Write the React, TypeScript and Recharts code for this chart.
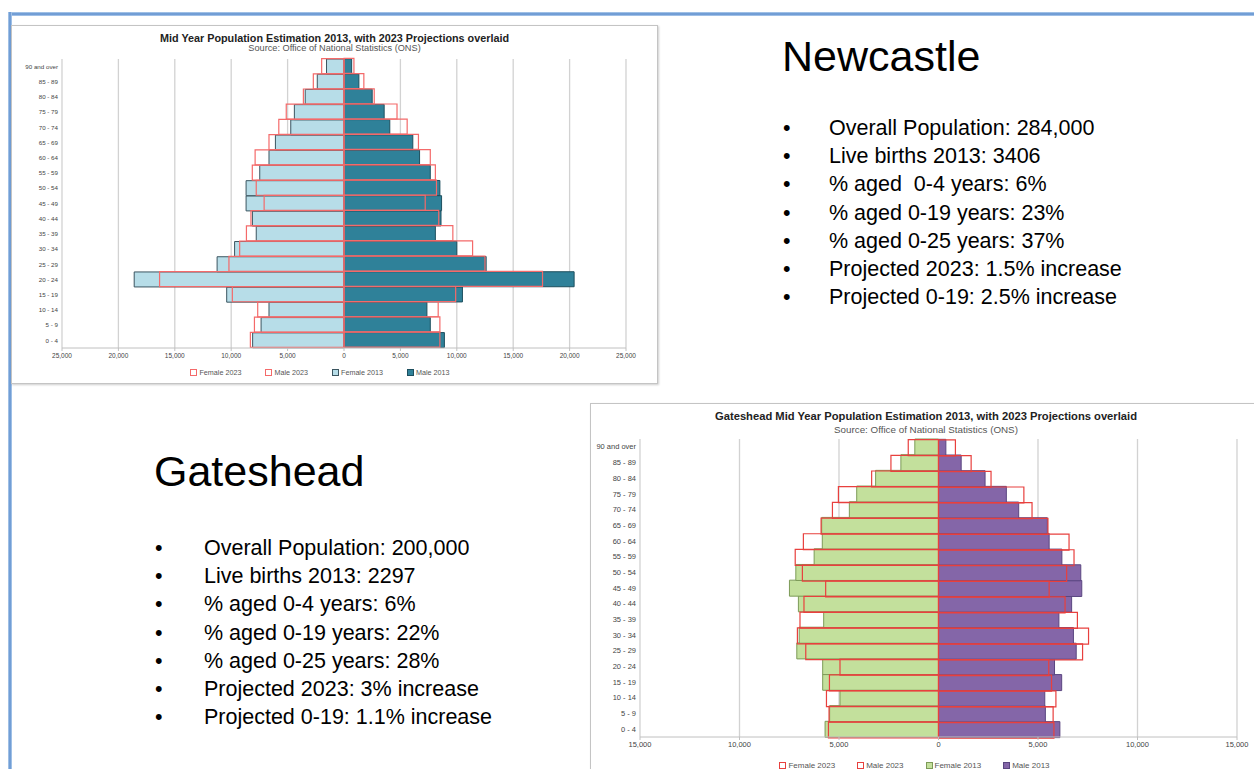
import React from 'react';
import { BarChart, Bar, XAxis, YAxis, CartesianGrid, Legend } from 'recharts';

// ---------- data ----------
const ageGroups = [
  '0 - 4', '5 - 9', '10 - 14', '15 - 19', '20 - 24', '25 - 29', '30 - 34', '35 - 39', '40 - 44',
  '45 - 49', '50 - 54', '55 - 59', '60 - 64', '65 - 69', '70 - 74', '75 - 79', '80 - 84', '85 - 89', '90 and over',
];

// Newcastle
const ncFemale2013 = [8100, 7350, 6650, 10400, 18600, 11250, 9700, 7780, 8120, 8680, 8680, 7470, 6650, 6080, 4720, 4400, 3440, 2370, 1550];
const ncFemale2023 = [8300, 7940, 7650, 9900, 16350, 10200, 9250, 8650, 8250, 7080, 7780, 8130, 7880, 6650, 5780, 5120, 3600, 2720, 1980];
const ncMale2013 = [8900, 7650, 7350, 10500, 20400, 12600, 10000, 8100, 8600, 8650, 8500, 7650, 6700, 6100, 4060, 3560, 2500, 1320, 680];
const ncMale2023 = [8500, 8500, 8350, 9900, 17600, 12500, 11400, 9650, 8400, 7200, 8200, 8100, 7650, 6600, 5600, 4700, 2680, 1760, 880];
const ncTicks = [-25000, -20000, -15000, -10000, -5000, 0, 5000, 10000, 15000, 20000, 25000];

// Gateshead
const gsFemale2013 = [5700, 5470, 4950, 5820, 5820, 7120, 7000, 5770, 7040, 7490, 7170, 6250, 5840, 5870, 4480, 4110, 3160, 1890, 1190];
const gsFemale2023 = [5530, 5500, 5630, 5480, 4950, 6670, 7090, 6960, 6760, 5670, 6840, 7200, 6790, 5900, 5330, 5030, 3360, 2390, 1520];
const gsMale2013 = [6100, 5370, 5340, 6190, 5830, 6920, 6780, 6050, 6690, 7200, 7150, 6200, 5560, 5470, 4030, 3410, 2340, 1140, 370];
const gsMale2023 = [5800, 5760, 5900, 5680, 5540, 7240, 7540, 6980, 6360, 5560, 6440, 6810, 6560, 5500, 4700, 4290, 2640, 1640, 850];
const gsTicks = [-15000, -10000, -5000, 0, 5000, 10000, 15000];

const legendLabels = ['Female 2023', 'Male 2023', 'Female 2013', 'Male 2013'];

const newcastleFacts = [
  'Overall Population: 284,000',
  'Live births 2013: 3406',
  '% aged  0-4 years: 6%',
  '% aged 0-19 years: 23%',
  '% aged 0-25 years: 37%',
  'Projected 2023: 1.5% increase',
  'Projected 0-19: 2.5% increase',
];
const gatesheadFacts = [
  'Overall Population: 200,000',
  'Live births 2013: 2297',
  '% aged 0-4 years: 6%',
  '% aged 0-19 years: 22%',
  '% aged 0-25 years: 28%',
  'Projected 2023: 3% increase',
  'Projected 0-19: 1.1% increase',
];

const buildRows = (f13: number[], f23: number[], m13: number[], m23: number[]) =>
  ageGroups.map((age, i) => ({ age, f13: -f13[i], m13: m13[i], f23: -f23[i], m23: m23[i] }));

const fmt = (v: number) => Math.abs(v).toLocaleString('en-US');

const chartFont = '"Liberation Sans", Arial, sans-serif';

type PyramidProps = {
  left: number; top: number; width: number; height: number;
  title: string; subtitle: string; titleY: number; subY: number; titleSize: number; subSize: number;
  rows: any[]; ticks: number[];
  margin: { top: number; right: number; bottom: number; left: number };
  yWidth: number; xHeight: number; legendHeight: number;
  tickSize: number; catSize: number; legendSize: number; legendGap: number;
  f13: { fill: string; stroke: string }; m13: { fill: string; stroke: string }; red: string;
};

function Pyramid(p: PyramidProps) {
  const legendItems = [
    { label: legendLabels[0], fill: '#fff', stroke: p.red, sw: 1 },
    { label: legendLabels[1], fill: '#fff', stroke: p.red, sw: 1.5 },
    { label: legendLabels[2], fill: p.f13.fill, stroke: p.f13.stroke, sw: 1 },
    { label: legendLabels[3], fill: p.m13.fill, stroke: p.m13.stroke, sw: 1 },
  ];
  const renderLegend = () => (
    <div style={{ display: 'flex', justifyContent: 'center', alignItems: 'center', height: p.legendHeight, fontSize: p.legendSize, color: '#555', fontFamily: chartFont }}>
      {legendItems.map((it, i) => (
        <span key={it.label} style={{ display: 'inline-flex', alignItems: 'center', marginRight: i < 3 ? p.legendGap : 0 }}>
          <span style={{ display: 'inline-block', width: 5, height: 5, background: it.fill, border: `${it.sw}px solid ${it.stroke}`, marginRight: 2 }} />
          {it.label}
        </span>
      ))}
    </div>
  );
  const catTick = (props: any) => (
    <text x={props.x} y={props.y} dy="0.35em" textAnchor="end" fill="#444" fontSize={p.catSize} fontFamily={chartFont}>
      {props.payload.value}
    </text>
  );
  return (
    <div style={{ position: 'absolute', left: p.left, top: p.top, width: p.width, height: p.height, border: '1px solid #c4c4c4', background: '#fff', boxShadow: '1px 1px 2px rgba(0,0,0,0.2)' }}>
      <div style={{ position: 'absolute', left: 0, width: p.width, top: p.titleY - p.titleSize * 0.6, textAlign: 'center', fontFamily: chartFont, fontWeight: 'bold', fontSize: p.titleSize, color: '#222', lineHeight: 1.2, whiteSpace: 'nowrap' }}>{p.title}</div>
      <div style={{ position: 'absolute', left: 0, width: p.width, top: p.subY - p.subSize * 0.6, textAlign: 'center', fontFamily: chartFont, fontSize: p.subSize, color: '#555', lineHeight: 1.2, whiteSpace: 'nowrap' }}>{p.subtitle}</div>
      <BarChart
        width={p.width}
        height={p.height}
        data={p.rows}
        layout="vertical"
        margin={p.margin}
        barCategoryGap={0}
        barGap="-100%"
      >
        <CartesianGrid horizontal={false} stroke="#d2d2d2" strokeWidth={1.3} />
        <XAxis
          type="number"
          domain={[p.ticks[0], p.ticks[p.ticks.length - 1]]}
          ticks={p.ticks}
          tickFormatter={fmt}
          height={p.xHeight}
          stroke="#c0c0c0"
          tickSize={3}
          tickMargin={2}
          tick={{ fill: '#444', fontSize: p.tickSize, fontFamily: chartFont }}
          interval={0}
        />
        <YAxis
          type="category"
          dataKey="age"
          reversed
          width={p.yWidth}
          axisLine={false}
          tickLine={false}
          tickSize={0}
          tickMargin={4}
          interval={0}
          tick={catTick}
        />
        <Legend verticalAlign="bottom" height={p.legendHeight} content={renderLegend} />
        <Bar dataKey="f13" name="Female 2013" fill={p.f13.fill} stroke={p.f13.stroke} strokeWidth={1} isAnimationActive={false} />
        <Bar dataKey="m13" name="Male 2013" fill={p.m13.fill} stroke={p.m13.stroke} strokeWidth={1} isAnimationActive={false} />
        <Bar dataKey="f23" name="Female 2023" fill="none" stroke={p.red} strokeWidth={1.2} isAnimationActive={false} />
        <Bar dataKey="m23" name="Male 2023" fill="none" stroke={p.red} strokeWidth={1.2} isAnimationActive={false} />
      </BarChart>
    </div>
  );
}

const slideFont = '"Liberation Sans", Arial, sans-serif';

function Facts({ left, top, title, titleLeft, titleTop, items, bulletLeft }: { left: number; top: number; title: string; titleLeft: number; titleTop: number; items: string[]; bulletLeft: number }) {
  return (
    <>
      <div style={{ position: 'absolute', left: titleLeft, top: titleTop, fontSize: 43, lineHeight: '43px', fontFamily: slideFont, color: '#000', whiteSpace: 'nowrap' }}>{title}</div>
      {items.map((t, i) => (
        <React.Fragment key={t}>
          <div style={{ position: 'absolute', left: bulletLeft, top: top + i * 28.2, fontSize: 21.5, lineHeight: '28.2px', fontFamily: slideFont, color: '#000' }}>•</div>
          <div style={{ position: 'absolute', left, top: top + i * 28.2, fontSize: 21.5, lineHeight: '28.2px', fontFamily: slideFont, color: '#000', whiteSpace: 'pre' }}>{t}</div>
        </React.Fragment>
      ))}
    </>
  );
}

export default function App() {
  const ncRows = buildRows(ncFemale2013, ncFemale2023, ncMale2013, ncMale2023);
  const gsRows = buildRows(gsFemale2013, gsFemale2023, gsMale2013, gsMale2023);
  return (
    <div style={{ position: 'absolute', left: 0, top: 0, width: 1254, height: 769, overflow: 'hidden', background: '#fff' }}>
      <div style={{ position: 'absolute', left: 8, top: 12, right: 0, height: 4, background: 'linear-gradient(#b5d0ee, #5b8dcd 50%, #b5d0ee)' }} />
      <div style={{ position: 'absolute', left: 8, top: 12, bottom: 0, width: 4, background: 'linear-gradient(90deg, #b5d0ee, #5b8dcd 50%, #b5d0ee)' }} />

      <Pyramid
        left={11} top={25} width={645} height={357}
        title="Mid Year Population Estimation 2013, with 2023 Projections overlaid"
        subtitle="Source: Office of National Statistics (ONS)"
        titleY={12} subY={23} titleSize={10.8} subSize={9.2}
        rows={ncRows} ticks={ncTicks}
        margin={{ top: 33, right: 31, bottom: 3, left: 2 }}
        yWidth={48} xHeight={16} legendHeight={16}
        tickSize={6.5} catSize={6.2} legendSize={7.2} legendGap={24}
        f13={{ fill: '#b7dde8', stroke: '#3b5560' }}
        m13={{ fill: '#2f8199', stroke: '#1d4f5e' }}
        red="#f46a6a"
      />

      <Pyramid
        left={590} top={403} width={670} height={375}
        title="Gateshead Mid Year Population Estimation 2013, with 2023 Projections overlaid"
        subtitle="Source: Office of National Statistics (ONS)"
        titleY={13} subY={25.5} titleSize={11.2} subSize={9.8}
        rows={gsRows} ticks={gsTicks}
        margin={{ top: 35, right: 24, bottom: 4, left: 1 }}
        yWidth={48} xHeight={18} legendHeight={20}
        tickSize={7.5} catSize={7.5} legendSize={8} legendGap={22}
        f13={{ fill: '#c3e09c', stroke: '#7d9b58' }}
        m13={{ fill: '#8466a8', stroke: '#5a4680' }}
        red="#e8403e"
      />

      <Facts left={829} top={114} title="Newcastle" titleLeft={782} titleTop={35} items={newcastleFacts} bulletLeft={783} />
      <Facts left={204} top={534} title="Gateshead" titleLeft={154} titleTop={450} items={gatesheadFacts} bulletLeft={155} />
    </div>
  );
}
